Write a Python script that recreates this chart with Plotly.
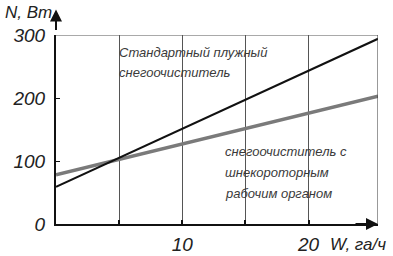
import plotly.graph_objects as go

# Data
w_std = [0, 25.5]
n_std = [59, 294]          # Стандартный плужный снегоочиститель
w_auger = [0, 25.5]
n_auger = [78, 203]        # снегоочиститель с шнекороторным рабочим органом

x_ticks = [5, 10, 15, 20]
x_tick_text = ["", "10", "", "20"]
y_ticks = [0, 100, 200, 300]

FONT = "Liberation Sans, Arial, sans-serif"

fig = go.Figure()
fig.add_trace(go.Scatter(x=w_auger, y=n_auger, mode="lines",
                         line=dict(color="#7a7a7a", width=3.5), showlegend=False))
fig.add_trace(go.Scatter(x=w_std, y=n_std, mode="lines",
                         line=dict(color="#111111", width=2), showlegend=False))

# frame: top and right border
fig.add_shape(type="line", x0=0, x1=25.5, y0=300, y1=300, xref="x", yref="y",
              line=dict(color="#555555", width=1))
fig.add_shape(type="line", x0=25.5, x1=25.5, y0=0, y1=300, xref="x", yref="y",
              line=dict(color="#333333", width=1))

# axis arrows
fig.add_annotation(x=0, y=1.135, xref="x", yref="paper", ax=0, ay=22,
                   showarrow=True, arrowhead=2, arrowsize=1.2, arrowwidth=2,
                   arrowcolor="#111111", text="")
fig.add_annotation(x=25.5, y=0, xref="x", yref="y", ax=-24, ay=0,
                   showarrow=True, arrowhead=2, arrowsize=1.2, arrowwidth=2,
                   arrowcolor="#111111", text="")

tfont = dict(family=FONT, size=13, color="#3a3a3a", style="italic")
label_lines = [
    ("Стандартный плужный", 4.85, 273),
    ("снегоочиститель", 4.85, 240),
    ("снегоочиститель с", 13.2, 115),
    ("шнекороторным", 13.2, 81),
    ("рабочим органом", 13.2, 49),
]
for txt, lx, ly in label_lines:
    fig.add_annotation(x=lx, y=ly, xref="x", yref="y", xanchor="left", yanchor="middle",
                       text=txt, showarrow=False, font=tfont)

afont = dict(family=FONT, size=17, color="#222222", style="italic")
fig.add_annotation(x=-0.165, y=1.119, xref="paper", yref="paper", xanchor="left",
                   yanchor="middle", text="N, Вт", showarrow=False, font=afont)
fig.add_annotation(x=0.845, y=-0.111, xref="paper", yref="paper", xanchor="left",
                   yanchor="middle", text="W, га/ч", showarrow=False, font=afont)

tickfont = dict(family=FONT, size=19, color="#222222", style="italic")
fig.update_xaxes(range=[0, 25.5], showline=True, linecolor="#111111", linewidth=2,
                 showgrid=True, gridcolor="#555555", gridwidth=1,
                 ticks="inside", ticklen=4, tickcolor="#111111", tickwidth=1.5,
                 tickvals=x_ticks, ticktext=x_tick_text, ticklabelstandoff=2,
                 tickfont=tickfont, zeroline=False, fixedrange=True, automargin=False)
fig.update_yaxes(range=[0, 300], showline=True, linecolor="#111111", linewidth=2,
                 showgrid=False, tickvals=y_ticks, ticks="inside", ticklen=4,
                 tickcolor="#111111", tickfont=tickfont, ticklabelstandoff=5,
                 zeroline=False, fixedrange=True, automargin=False)

fig.update_layout(width=393, height=256,
                  margin=dict(l=56, r=15, t=35, b=32, autoexpand=False),
                  plot_bgcolor="white", paper_bgcolor="white", showlegend=False)

# remove the default page margin so the figure sits at the window's top-left corner
fig.write_html("out.html", config={"displayModeBar": False},
               post_script="document.body.style.margin='0';")
